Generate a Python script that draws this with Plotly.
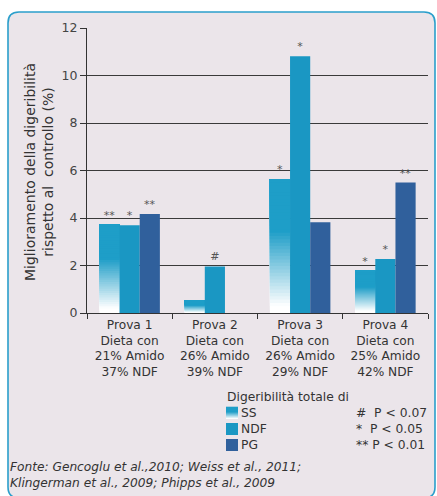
import plotly.graph_objects as go

categories = [
    "Prova 1<br>Dieta con<br>21% Amido<br>37% NDF",
    "Prova 2<br>Dieta con<br>26% Amido<br>39% NDF",
    "Prova 3<br>Dieta con<br>26% Amido<br>29% NDF",
    "Prova 4<br>Dieta con<br>25% Amido<br>42% NDF",
]
ss_values = [3.72, 0.53, 5.64, 1.78]
ndf_values = [3.69, 1.96, 10.81, 2.27]
pg_values = [4.17, 0.0, 3.82, 5.49]
ss_marks = ["**", "", "*", "*"]
ndf_marks = ["*", "#", "*", "*"]
pg_marks = ["**", "", "", "**"]
y_ticks = [0, 2, 4, 6, 8, 10, 12]
legend_title = "Digeribilità totale di"
legend_names = ["SS", "NDF", "PG"]
p_notes = ["#  P < 0.07", "*  P < 0.05", "** P < 0.01"]
source_lines = ["Fonte: Gencoglu et al.,2010; Weiss et al., 2011;",
                "Klingerman et al., 2009; Phipps et al., 2009"]

TEAL = (30, 158, 200)
NDF_COLOR = "#1a97c3"
PG_COLOR = "#30609c"
FONT = "DejaVu Sans"
TXT = "#333333"

W_FIG, H_FIG = 437, 496
L, R, T, B = 87, 428, 28, 313
PW, PH = R - L, B - T


def px(x):
    return (x - L) / PW


def py(y):
    return (B - y) / PH


def grad_color(t):
    # t: fraction of the bar height (0 bottom, 1 top)
    a = min(max((t - 0.04) / 0.56, 0.0), 1.0)
    r = int(255 + (TEAL[0] - 255) * a)
    g = int(255 + (TEAL[1] - 255) * a)
    b = int(255 + (TEAL[2] - 255) * a)
    return f"rgb({r},{g},{b})"


fig = go.Figure()

N = 40
for k in range(N):
    fig.add_trace(go.Bar(
        x=categories,
        y=[v * (1 - k / N) for v in ss_values],
        base=[v * k / N for v in ss_values],
        offsetgroup="SS",
        marker=dict(color=grad_color(k / N), line=dict(width=0)),
        text=ss_marks if k == 0 else None,
        textposition="outside" if k == 0 else "none",
        textfont=dict(size=11, color="#555555", family=FONT),
        showlegend=False,
        hoverinfo="skip",
    ))

fig.add_trace(go.Bar(
    x=categories, y=ndf_values, offsetgroup="NDF", name="NDF",
    marker=dict(color=NDF_COLOR, line=dict(width=0)),
    text=ndf_marks, textposition="outside",
    textfont=dict(size=11, color="#555555", family=FONT),
    showlegend=False,
))
fig.add_trace(go.Bar(
    x=categories, y=pg_values, offsetgroup="PG", name="PG",
    marker=dict(color=PG_COLOR, line=dict(width=0)),
    text=pg_marks, textposition="outside",
    textfont=dict(size=11, color="#555555", family=FONT),
    showlegend=False,
))

shapes = []
# panel with rounded corners
x0, y0, x1, y1 = px(8), py(12), px(435), py(498)
rx, ry = 11 / PW, 11 / PH
path = (f"M {x0+rx},{y0} L {x1-rx},{y0} Q {x1},{y0} {x1},{y0-ry} "
        f"L {x1},{y1+ry} Q {x1},{y1} {x1-rx},{y1} L {x0+rx},{y1} "
        f"Q {x0},{y1} {x0},{y1+ry} L {x0},{y0-ry} Q {x0},{y0} {x0+rx},{y0} Z")
shapes.append(dict(type="path", path=path, xref="paper", yref="paper",
                   fillcolor="#ebe5ea", line=dict(color="#2b9fcb", width=1.6),
                   layer="below"))

annotations = []
# legend
FS = 12.3
LINE = FS * 1.3
annotations.append(dict(text=legend_title, x=px(225), y=py(397), xref="paper", yref="paper",
                        xanchor="left", yanchor="middle", showarrow=False,
                        font=dict(size=FS, color=TXT, family=FONT)))
first = 413
for i in range(len(legend_names)):
    yc = first + LINE * i
    if i == 0:
        M = 12
        for j in range(M):
            shapes.append(dict(type="rect", xref="paper", yref="paper",
                               x0=px(226), x1=px(238),
                               y0=py(yc + 6 - 12 * j / M), y1=py(yc + 6 - 12 * (j + 1) / M - 0.3),
                               fillcolor=grad_color(j / M + 0.05), line=dict(width=0)))
    else:
        shapes.append(dict(type="rect", xref="paper", yref="paper",
                           x0=px(226), x1=px(238), y0=py(yc + 6), y1=py(yc - 6),
                           fillcolor=NDF_COLOR if i == 1 else PG_COLOR, line=dict(width=0)))
mid = first + LINE
annotations.append(dict(text="<br>".join(legend_names), x=px(239), y=py(mid), xref="paper",
                        yref="paper", xanchor="left", yanchor="middle", align="left",
                        showarrow=False, font=dict(size=FS, color=TXT, family=FONT)))
annotations.append(dict(text="<br>".join(p_notes), x=px(429), y=py(mid), xref="paper",
                        yref="paper", xanchor="right", yanchor="middle", align="left",
                        showarrow=False, font=dict(size=FS, color=TXT, family=FONT)))

annotations.append(dict(text="<br>".join(f"<i>{s}</i>" for s in source_lines),
                        x=px(8), y=py(475), xref="paper", yref="paper",
                        xanchor="left", yanchor="middle", align="left",
                        showarrow=False, font=dict(size=12.2, color=TXT, family=FONT)))

# y-axis title
annotations.append(dict(text="Miglioramento della digeribilità<br>rispetto al  controllo (%)",
                        x=px(39), y=py(172), xref="paper", yref="paper",
                        xanchor="center", yanchor="middle", textangle=-90, showarrow=False,
                        font=dict(size=14, color=TXT, family=FONT)))

fig.update_layout(
    width=W_FIG, height=H_FIG,
    margin=dict(l=L, r=W_FIG - R, t=T, b=H_FIG - B, pad=0),
    paper_bgcolor="white", plot_bgcolor="rgba(0,0,0,0)",
    barmode="group", bargap=0.29, bargroupgap=0,
    font=dict(family=FONT, color=TXT),
    shapes=shapes, annotations=annotations,
    showlegend=False,
)
fig.update_xaxes(
    type="category", showgrid=False, showline=True, linecolor="#333333", linewidth=1,
    ticks="outside", tickson="boundaries", ticklen=5, tickcolor="#333333",
    tickfont=dict(size=12.2, color=TXT, family=FONT), fixedrange=True,
)
fig.update_yaxes(
    range=[0, 12], tickvals=y_ticks, showgrid=True, gridcolor="#3a3a3a", gridwidth=1,
    showline=True, linecolor="#333333", linewidth=1, zeroline=False,
    ticks="outside", ticklen=6, tickcolor="#333333",
    tickfont=dict(size=12.5, color="#444444", family=FONT), fixedrange=True,
)

fig.write_html("out.html", config={"displayModeBar": False},
               post_script="document.body.style.margin='0';document.body.style.overflow='hidden';")
